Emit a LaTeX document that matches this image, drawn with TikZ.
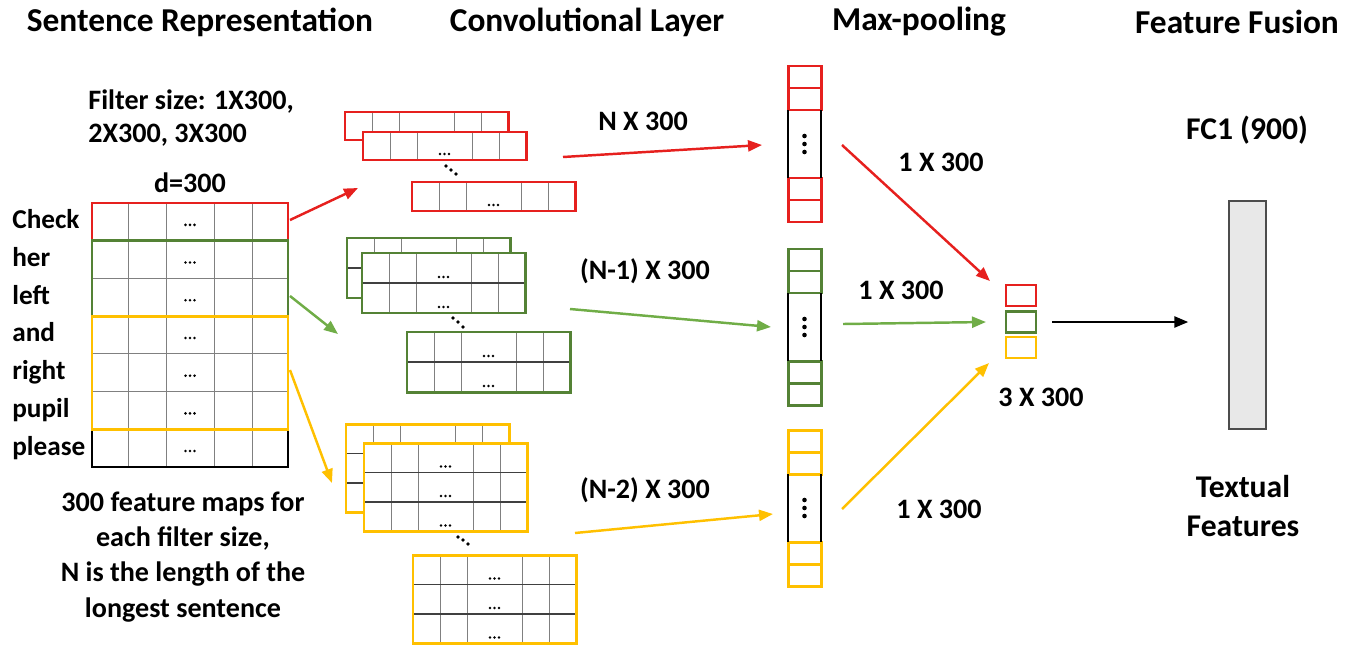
\documentclass[tikz,border=0pt]{standalone}
\usepackage{fontspec}
\setmainfont{Carlito}
\usetikzlibrary{arrows.meta}

\definecolor{cnnred}{RGB}{230,32,30}
\definecolor{cnngreen}{RGB}{84,130,53}
\definecolor{cnnlime}{RGB}{112,173,71}
\definecolor{cnnyellow}{RGB}{255,192,0}

\tikzset{
  title/.style={font=\fontsize{19}{22}\selectfont\bfseries, inner sep=0},
  sizetext/.style={font=\fontsize{16}{19}\selectfont\bfseries, inner sep=0},
  bigtext/.style={font=\fontsize{18}{21}\selectfont\bfseries, inner sep=0},
  word/.style={font=\fontsize{15.5}{18}\selectfont\bfseries, inner sep=0, anchor=base west},
  gridline/.style={black!50, line width=0.5pt},
  rowline/.style={black!75, line width=0.6pt},
  mapframe/.style={line width=1.7pt},
  flow/.style={->, line width=1.4pt},
  veccell/.style={draw, minimum width=0.6cm, minimum height=0.42cm, inner sep=0, line width=1.5pt},
  fcbox/.style={draw=gray!60!black, fill=gray!18, minimum width=0.74cm, minimum height=4.56cm, line width=0.8pt}
}

% feature map: top-left corner, rows, row height, colour
\newcommand{\featmap}[4]{%
  \begin{scope}[shift={#1}]
    \fill[white] (0,0) rectangle (163,{#2*#3});
    \foreach \cx in {27,54,109,136}
      \draw[gridline] (\cx,0) -- (\cx,{#2*#3});
    \foreach \r in {1,...,#2}
      \foreach \dx in {-4.5,0,4.5}
        \fill ({81.5+\dx},{\r*#3-6}) circle (0.8pt);
    \ifnum#2>1
      \foreach \r in {2,...,#2}
        \draw[rowline] (0,{(\r-1)*#3}) -- (163,{(\r-1)*#3});
    \fi
    \draw[mapframe, #4] (0,0) rectangle (163,{#2*#3});
  \end{scope}}

% pooled column: top edge, colour
\newcommand{\poolcol}[2]{%
  \begin{scope}[shift={(788,#1)}]
    \foreach \t in {0,22,112,134}
      \draw[mapframe, #2] (0,\t) rectangle (33,{\t+22});
    \draw[line width=1.2pt] (0,44) -- (0,112) (33,44) -- (33,112);
    \foreach \d in {-8,0,8}
      \fill (16.5,{78+\d}) circle (1.3pt);
  \end{scope}}

\begin{document}
\begin{tikzpicture}[x=0.02cm, y=-0.02cm, >={Triangle[length=0.28cm,width=0.22cm]}]
  \useasboundingbox (0,0) rectangle (1362,646);

  % headings
  \node[title] (tsent) at (200,22) {Sentence Representation};
  \node[title] (tconv) at (587,22) {Convolutional Layer};
  \node[title] (tpool) at (919,22) {Max-pooling};
  \node[title] (tfuse) at (1237,22) {Feature Fusion};

  % sentence matrix
  \node[sizetext, align=left, anchor=west] (filter) at (88,118) {Filter size: 1X300,\\2X300, 3X300};
  \node[sizetext] (dim) at (190,183) {d=300};
  \foreach \cx in {128,166,214,252}
    \draw[gridline] (\cx,203) -- (\cx,467);
  \foreach \r in {1,...,6}
    \draw[gridline] (92,{203+\r*37.7}) -- (288,{203+\r*37.7});
  \draw[line width=1pt] (92,203) rectangle (288,467);
  \foreach \r in {1,...,7}
    \foreach \dx in {-4.5,0,4.5}
      \fill ({190+\dx},{203+(\r-0.5)*37.7+3}) circle (0.8pt);
  \draw[mapframe, cnnred] (92,203) rectangle (288,240.7);
  \draw[mapframe, cnngreen] (92,240.7) rectangle (288,316.1);
  \draw[mapframe, cnnyellow] (92,316.1) rectangle (288,429.2);
  \foreach \w [count=\i] in {Check,her,left,and,right,pupil,please}
    \node[word] (word\i) at (12,{203+(\i-0.5)*37.7+7}) {\w};
  \node[sizetext, align=center] (note) at (183,557)
    {300 feature maps for\\[1pt]each filter size,\\[1pt]N is the length of the\\[1pt]longest sentence};

  % convolution outputs
  \featmap{(345,112)}{1}{28}{cnnred}
  \featmap{(363,132)}{1}{28}{cnnred}
  \featmap{(412,182)}{1}{29}{cnnred}
  \featmap{(347,238)}{2}{30}{cnngreen}
  \featmap{(362,253)}{2}{30}{cnngreen}
  \featmap{(407,332)}{2}{30}{cnngreen}
  \featmap{(346,424)}{3}{29.5}{cnnyellow}
  \featmap{(364,443)}{3}{29.5}{cnnyellow}
  \featmap{(413,555)}{3}{29.5}{cnnyellow}
  \foreach \px/\py in {446/166,451/170,456/174,453/318,458/322,463/327,458/537,463/540,468/544}
    \fill (\px,\py) circle (1.1pt);
  \node[sizetext] (sizen) at (643,121) {N X 300};
  \node[sizetext] (sizen1) at (645,271) {(N-1) X 300};
  \node[sizetext] (sizen2) at (645,490) {(N-2) X 300};

  % max-pooling
  \poolcol{66}{cnnred}
  \poolcol{249}{cnngreen}
  \poolcol{430}{cnnyellow}
  \node[sizetext] (pool1) at (941,162) {1 X 300};
  \node[sizetext] (pool2) at (901,290) {1 X 300};
  \node[sizetext] (pool3) at (939,509) {1 X 300};

  % fused vector and FC layer
  \node[veccell, draw=cnnred] (vecred) at (1021,295.5) {};
  \node[veccell, draw=cnngreen] (vecgreen) at (1021,322) {};
  \node[veccell, draw=cnnyellow] (vecyellow) at (1021,347.5) {};
  \node[sizetext] (vecsize) at (1041,397) {3 X 300};
  \node[fcbox] (fc) at (1247.5,315) {};
  \node[bigtext] (fcname) at (1247,130) {FC1 (900)};
  \node[bigtext, align=center] (textual) at (1243,506) {Textual\\[1pt]Features};

  % arrow ends
  \coordinate (mred) at (290,220);
  \coordinate (mgreen) at (290,296);
  \coordinate (myellow) at (290,370);
  \coordinate (cred) at (358,188);
  \coordinate (cgreen) at (338,334);
  \coordinate (cyellow) at (332,483);
  \coordinate (fred) at (563,157);
  \coordinate (fgreen) at (570,309);
  \coordinate (fyellow) at (575,533);
  \coordinate (pred) at (762,145);
  \coordinate (pgreen) at (771,327);
  \coordinate (pyellow) at (773,514);
  \coordinate (ored) at (842,145);
  \coordinate (ogreen) at (843,324);
  \coordinate (oyellow) at (842,509);
  \coordinate (vred) at (990,281);
  \coordinate (vgreen) at (986,322);
  \coordinate (vyellow) at (989,363);

  \draw[flow, cnnred] (mred) -- (cred);
  \draw[flow, cnnlime] (mgreen) -- (cgreen);
  \draw[flow, cnnyellow] (myellow) -- (cyellow);
  \draw[flow, cnnred] (fred) -- (pred);
  \draw[flow, cnnlime] (fgreen) -- (pgreen);
  \draw[flow, cnnyellow] (fyellow) -- (pyellow);
  \draw[flow, cnnred] (ored) -- (vred);
  \draw[flow, cnnlime] (ogreen) -- (vgreen);
  \draw[flow, cnnyellow] (oyellow) -- (vyellow);
  \draw[flow, shorten <=0.3cm, shorten >=0.8cm] (vecgreen.east) -- (vecgreen.east -| fc.west);
\end{tikzpicture}
\end{document}
